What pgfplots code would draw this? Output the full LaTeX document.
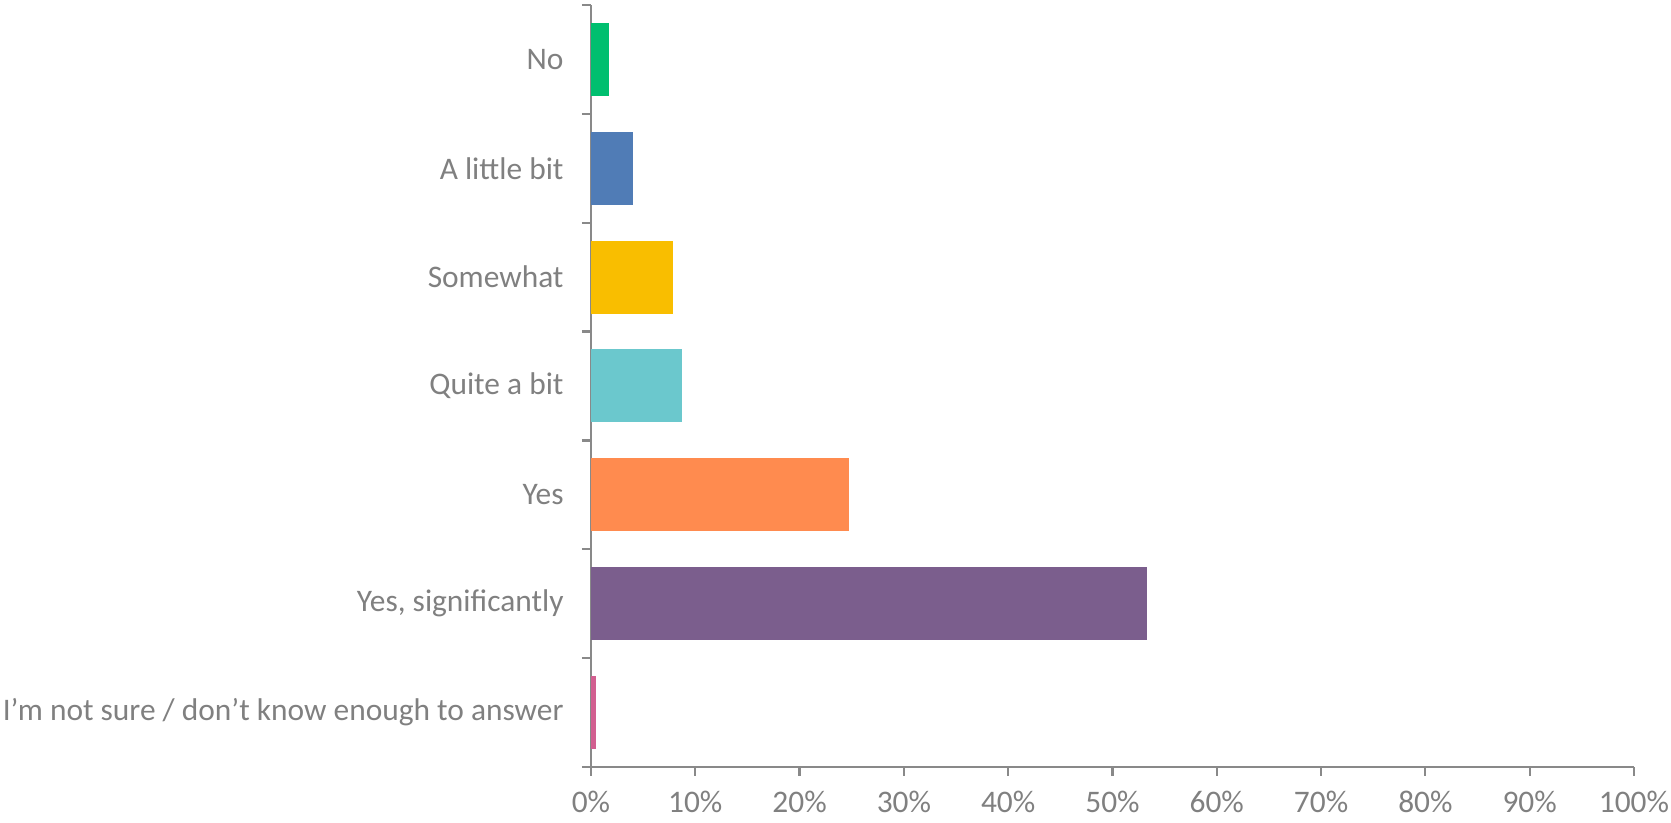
\documentclass[border=0pt]{standalone}
\usepackage{pgfplots}
\pgfplotsset{compat=1.18}
\usepackage{fontspec}
\setmainfont{Carlito}
\definecolor{axisgray}{HTML}{898989}
\definecolor{txtgray}{HTML}{808080}
\definecolor{cgreen}{HTML}{00BF6F}
\definecolor{cblue}{HTML}{507CB6}
\definecolor{cyellow}{HTML}{F9BE00}
\definecolor{cteal}{HTML}{6BC8CD}
\definecolor{corange}{HTML}{FF8B4F}
\definecolor{cpurple}{HTML}{7B5E8D}
\definecolor{cpink}{HTML}{D25F90}
\begin{document}
\begin{tikzpicture}
\begin{axis}[
  scale only axis,
  width=521.5pt, height=381pt,
  xbar, bar width=36.5pt, bar shift=0pt,
  xmin=0, xmax=100,
  ymin=0.5, ymax=7.5,
  axis lines*=left,
  axis line style={axisgray, line width=1.1pt},
  xtick={0,10,...,100},
  xticklabel={\pgfmathprintnumber{\tick}\%},
  /pgf/number format/assume math mode=true,
  tick align=outside,
  major tick length=4.5pt,
  tick style={axisgray, line width=1.1pt},
  ytick={0.5,1.5,...,7.5},
  y tick label as interval=true,
  yticklabels={I’m not sure / don’t know enough to answer, {Yes, significantly}, Yes, Quite a bit, Somewhat, A little bit, No},
  ticklabel style={font=\fontsize{15.7}{18}\selectfont, text=txtgray},
  yticklabel style={xshift=-5.7pt},
  xticklabel style={yshift=-4pt},
  clip=false,
]
\addplot[fill=cgreen, draw=none] coordinates {(1.7,7)};
\addplot[fill=cblue, draw=none] coordinates {(4.0,6)};
\addplot[fill=cyellow, draw=none] coordinates {(7.9,5)};
\addplot[fill=cteal, draw=none] coordinates {(8.7,4)};
\addplot[fill=corange, draw=none] coordinates {(24.7,3)};
\addplot[fill=cpurple, draw=none] coordinates {(53.3,2)};
\addplot[fill=cpink, draw=none] coordinates {(0.45,1)};
\end{axis}
\pgfresetboundingbox
\path (current axis.south west) ++(-295.5pt,383.5pt) coordinate (tl);
\path (current axis.south west) ++(540pt,-28pt) coordinate (br);
\path (tl) rectangle (br);
\end{tikzpicture}
\end{document}
